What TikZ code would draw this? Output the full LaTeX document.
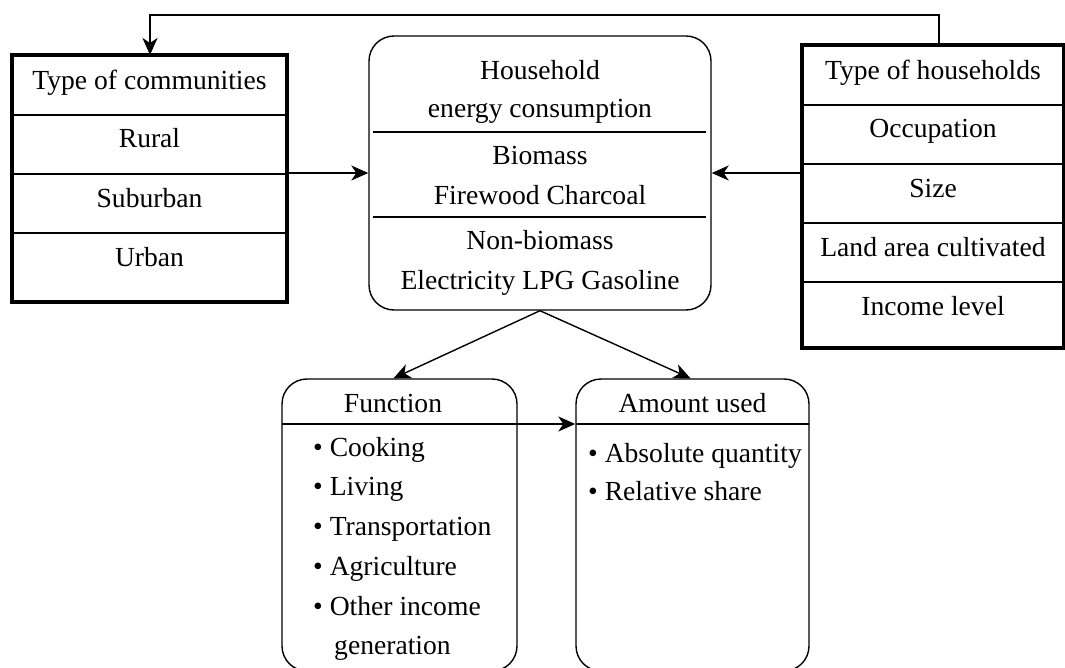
\documentclass[tikz,border=0pt]{standalone}
\usepackage{fontspec}
\setmainfont{Liberation Serif}
\usetikzlibrary{arrows.meta}
\begin{document}
\begin{tikzpicture}[x=1pt,y=-1pt,
  txt/.style={font=\fontsize{27.6}{32}\selectfont, inner sep=0pt, anchor=base},
  ltxt/.style={txt, anchor=base west},
  sqbox/.style={draw, line width=3.6pt, rectangle, inner sep=0pt},
  rbox/.style={draw, line width=1.4pt, rounded corners=25pt, inner sep=0pt},
  div/.style={line width=1.8pt},
  conn/.style={line width=1.4pt, -{Stealth[length=17pt,width=15pt,inset=5pt]}}]
\useasboundingbox (0,0) rectangle (1065,668);
\clip (0,0) rectangle (1065,668);

% boxes
\node[sqbox, minimum width=275pt, minimum height=247pt] (lbox) at (149.5,178.5) {};
\node[sqbox, minimum width=262pt, minimum height=303pt] (rbox) at (933,196.5) {};
\node[rbox, minimum width=342pt, minimum height=274pt] (cbox) at (540,173) {};
\node[rbox, minimum width=235pt, minimum height=292pt] (fbox) at (399.5,525) {};
\node[rbox, minimum width=233pt, minimum height=292pt] (abox) at (692.5,525) {};

% dividers
\draw[div] (12,115) -- (287,115);
\draw[div] (12,174) -- (287,174);
\draw[div] (12,233) -- (287,233);
\draw[div] (802,105) -- (1064,105);
\draw[div] (802,164) -- (1064,164);
\draw[div] (802,223) -- (1064,223);
\draw[div] (802,282) -- (1064,282);
\draw[div] (373,132) -- (706,132);
\draw[div] (373,217) -- (706,217);
\draw[div] (282,424) -- (517,424);
\draw[div] (576,424) -- (809,424);

% left texts
\node[txt] (l1) at (149.5,90) {Type of communities};
\node[txt] (l2) at (149.5,148) {Rural};
\node[txt] (l3) at (149.5,208) {Suburban};
\node[txt] (l4) at (149.5,267) {Urban};

% right texts
\node[txt] (r1) at (933,80) {Type of households};
\node[txt] (r2) at (933,138) {Occupation};
\node[txt] (r3) at (933,198) {Size};
\node[txt] (r4) at (933,257) {Land area cultivated};
\node[txt] (r5) at (933,315) {Income level};

% centre texts
\node[txt] (c1) at (540,80) {Household};
\node[txt] (c2) at (540,118) {energy consumption};
\node[txt] (c3) at (540,165) {Biomass};
\node[txt] (c4) at (540,205) {Firewood Charcoal};
\node[txt] (c5) at (540,250) {Non-biomass};
\node[txt] (c6) at (540,289) {Electricity LPG Gasoline};

% function texts
\node[txt] (f0) at (393,412) {Function};
\node[ltxt] (f1) at (313,456) {• Cooking};
\node[ltxt] (f2) at (313,495) {• Living};
\node[ltxt] (f3) at (313,535) {• Transportation};
\node[ltxt] (f4) at (313,575) {• Agriculture};
\node[ltxt] (f5) at (313,615) {• Other income};
\node[ltxt] (f6) at (334,654) {generation};

% amount texts
\node[txt] (a0) at (692.5,412) {Amount used};
\node[ltxt] (a1) at (588,462) {• Absolute quantity};
\node[ltxt] (a2) at (588,500) {• Relative share};

% connectors
\coordinate (tr) at (939,45);
\coordinate (tl) at (150,55);
\coordinate (fdiv) at (517,424);
\draw[conn] (tr) -- ++(0,-30) -| (tl);
\draw[conn] (lbox.east |- cbox.west) -- (cbox.west);
\draw[conn] (rbox.west |- cbox.east) -- (cbox.east);
\draw[conn] (cbox.south) -- ([xshift=-6pt]fbox.north);
\draw[conn] (cbox.south) -- ([xshift=-2pt]abox.north);
\draw[conn] (fdiv) -- (abox.west |- fdiv);
\end{tikzpicture}
\end{document}
